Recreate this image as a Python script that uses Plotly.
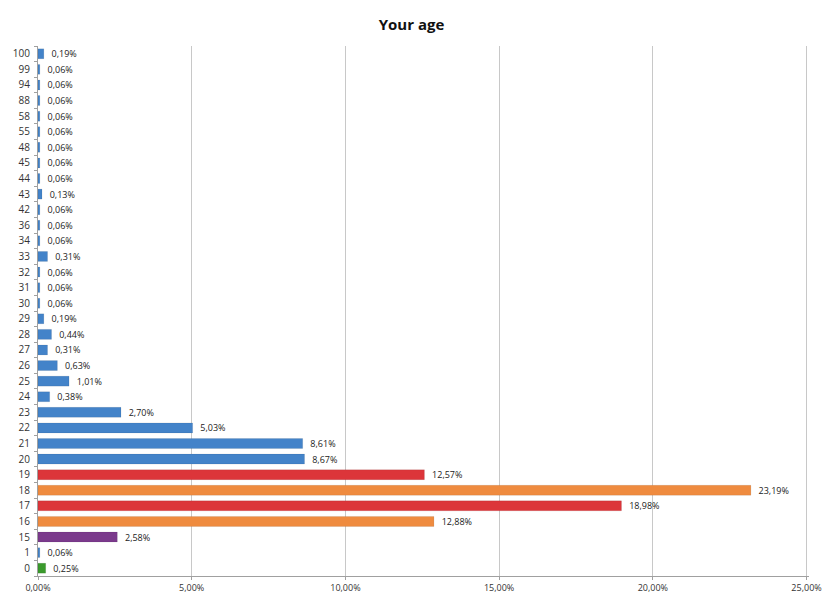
import plotly.graph_objects as go

# ages from bottom to top, share of respondents in %
ages = ['0', '1', '15', '16', '17', '18', '19', '20', '21', '22', '23', '24', '25', '26',
        '27', '28', '29', '30', '31', '32', '33', '34', '36', '42', '43', '44', '45',
        '48', '55', '58', '88', '94', '99', '100']
share = [0.25, 0.06, 2.58, 12.88, 18.98, 23.19, 12.57, 8.67, 8.61, 5.03, 2.70, 0.38,
         1.01, 0.63, 0.31, 0.44, 0.19, 0.06, 0.06, 0.06, 0.31, 0.06, 0.06, 0.06, 0.13,
         0.06, 0.06, 0.06, 0.06, 0.06, 0.06, 0.06, 0.06, 0.19]
xticks = [0, 5, 10, 15, 20, 25]
xtick_text = ['0,00%', '5,00%', '10,00%', '15,00%', '20,00%', '25,00%']

BLUE = '#4383c9'
special = {'0': '#3a9a2c', '15': '#7b3a8c', '16': '#ef8b3f', '17': '#dc353a',
           '18': '#ef8b3f', '19': '#dc353a'}
colors = [special.get(a, BLUE) for a in ages]
labels = ["  " + f"{v:.2f}%".replace('.', ',') for v in share]

fig = go.Figure(go.Bar(
    x=share, y=ages, orientation='h',
    marker=dict(color=colors, line=dict(color='rgba(0,0,0,0.15)', width=0.5)),
    text=labels, textposition='outside', cliponaxis=False, constraintext='none',
    textfont=dict(size=9, color='#222', family='Open Sans'),
))

fig.update_layout(
    title=dict(text='<b>Your age</b>', x=0.5, xanchor='center', y=0.958, yanchor='middle',
               font=dict(size=15, color='#111', family='Open Sans')),
    width=823, height=593,
    margin=dict(l=38, r=14, t=46, b=17, autoexpand=False),
    plot_bgcolor='white', paper_bgcolor='white',
    bargap=0.36, showlegend=False,
    font=dict(family='Open Sans', size=9, color='#222'),
)
fig.update_xaxes(range=[0, 25.08], tickvals=xticks, ticktext=xtick_text, automargin=False,
                 showgrid=True, gridcolor='#c8c8c8', gridwidth=1,
                 showline=True, linecolor='#a0a0a0', ticks='outside', ticklen=3,
                 tickcolor='#a0a0a0', zeroline=False, tickfont=dict(size=9, color='#333'))
fig.update_yaxes(type='category', categoryorder='array', categoryarray=ages,
                 automargin=False, tickson='boundaries', ticklabelstandoff=5,
                 showline=True, linecolor='#a0a0a0', ticks='outside', ticklen=3,
                 tickcolor='#a0a0a0', showgrid=False, tickfont=dict(size=10, color='#333'))

fig.write_html("out.html", config={'displayModeBar': False},
               post_script="document.body.style.margin='0px';")
